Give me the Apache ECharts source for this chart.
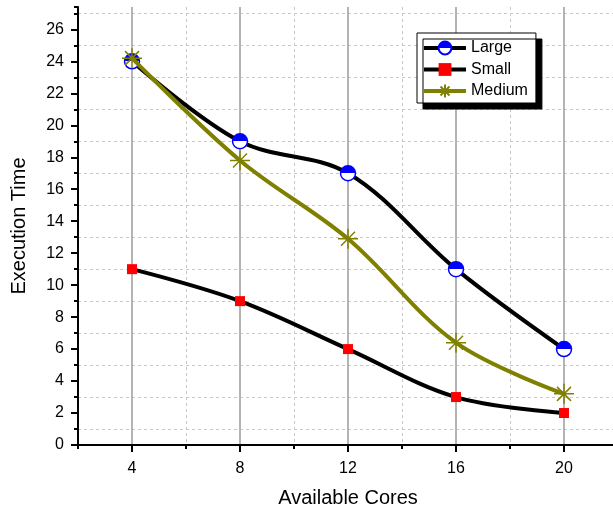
<!DOCTYPE html>
<html>
<head>
<meta charset="utf-8">
<script src="https://cdn.jsdelivr.net/npm/echarts@6.0.0/dist/echarts.min.js"></script>
<style>
  html, body { margin: 0; padding: 0; background: #fff; }
  #chart { width: 613px; height: 513px; }
</style>
</head>
<body>
<div id="chart"></div>
<script>
// values
const cores = [4, 8, 12, 16, 20];
const largeTimes = [24, 19, 17, 11, 6];
const smallTimes = [11, 9, 6, 3, 2];
const mediumTimes = [24.2, 17.8, 12.9, 6.4, 3.2];
const xTickLabels = [4, 8, 12, 16, 20];
const yTickLabels = [0, 2, 4, 6, 8, 10, 12, 14, 16, 18, 20, 22, 24, 26];

const FONT = "Liberation Sans, Arial, sans-serif";
const OLIVE = "#808000";

const chart = echarts.init(document.getElementById("chart"), null, { renderer: "canvas" });

const pairs = (vals) => cores.map((c, i) => [c, vals[i]]);

// half filled circle: blue on top, white below
const halfBlue = new echarts.graphic.LinearGradient(0, 0, 0, 1, [
  { offset: 0, color: "#0000ff" },
  { offset: 0.5, color: "#0000ff" },
  { offset: 0.5, color: "#ffffff" },
  { offset: 1, color: "#ffffff" },
]);

const asterisk = "path://M0 -10 L0 10 M-10 0 L10 0 M-7 -7 L7 7 M-7 7 L7 -7";

// shared scale, each axis only draws one piece
const xBase = { type: "value", min: 2, max: 22, interval: 2, position: "bottom" };
const yBase = { type: "value", min: 0, max: 27.4, interval: 1, position: "left" };
const off = { show: false };

chart.setOption({
  animation: false,
  backgroundColor: "#fff",
  textStyle: { fontFamily: FONT },
  // plot runs past the right edge of the picture
  grid: { left: 78, width: 540, top: 7, bottom: 68, outerBoundsMode: "none" },
  legend: {
    orient: "vertical",
    left: 417,
    top: 33,
    padding: [7, 8, 4, 5],
    itemWidth: 42,
    itemHeight: 16,
    itemGap: 5.5,
    backgroundColor: "#fff",
    borderColor: "#000",
    borderWidth: 1,
    shadowColor: "#000",
    shadowBlur: 0,
    shadowOffsetX: 6,
    shadowOffsetY: 6,
    lineStyle: { width: 4 },
    textStyle: { fontSize: 16, color: "#000", fontFamily: FONT },
    data: ["Large", "Small", "Medium"],
  },
  xAxis: [
    {
      ...xBase,
      name: "Available Cores",
      nameLocation: "middle",
      nameGap: 43,
      nameTextStyle: { fontSize: 20, color: "#000", fontFamily: FONT },
      axisLine: { show: true, onZero: false, lineStyle: { color: "#000", width: 2 } },
      axisTick: { show: true, length: 4, lineStyle: { color: "#000", width: 2 } },
      axisLabel: off,
      splitLine: { show: true, lineStyle: { color: ["#c8c8c8", "transparent"], type: [3, 3], width: 1 } },
    },
    {
      ...xBase,
      axisLine: off,
      axisTick: off,
      axisLabel: off,
      splitLine: { show: true, lineStyle: { color: ["transparent", "#b4b4b4"], width: 2 } },
    },
    {
      ...xBase,
      axisLine: off,
      axisTick: { show: true, length: 7, customValues: xTickLabels, lineStyle: { color: "#000", width: 2 } },
      axisLabel: { show: true, customValues: xTickLabels, fontSize: 16, color: "#000", margin: 16, fontFamily: FONT },
      splitLine: off,
    },
  ],
  yAxis: [
    {
      ...yBase,
      name: "Execution Time",
      nameLocation: "middle",
      nameGap: 49,
      nameTextStyle: { fontSize: 20, color: "#000", fontFamily: FONT },
      axisLine: { show: true, onZero: false, lineStyle: { color: "#000", width: 2 } },
      axisTick: { show: true, length: 4, lineStyle: { color: "#000", width: 2 } },
      axisLabel: off,
      splitLine: { show: true, lineStyle: { color: ["transparent", "#c8c8c8"], type: [3, 3], width: 1 } },
    },
    {
      ...yBase,
      axisLine: off,
      axisTick: { show: true, length: 7, customValues: yTickLabels, lineStyle: { color: "#000", width: 2 } },
      axisLabel: { show: true, customValues: yTickLabels, fontSize: 16, color: "#000", margin: 14, fontFamily: FONT },
      splitLine: off,
    },
  ],
  series: [
    {
      name: "Large",
      type: "line",
      smooth: 0.35,
      data: pairs(largeTimes),
      symbol: "circle",
      symbolSize: 15,
      itemStyle: { color: halfBlue, borderColor: "#0000ff", borderWidth: 1.5 },
      lineStyle: { color: "#000", width: 4 },
      z: 3,
    },
    {
      name: "Small",
      type: "line",
      smooth: 0.35,
      data: pairs(smallTimes),
      symbol: "rect",
      symbolSize: 10,
      itemStyle: { color: "#ff0000" },
      lineStyle: { color: "#000", width: 4 },
      z: 4,
    },
    {
      name: "Medium",
      type: "line",
      smooth: 0.35,
      data: pairs(mediumTimes),
      symbol: asterisk,
      symbolSize: 20,
      itemStyle: { color: OLIVE, borderColor: OLIVE, borderWidth: 1.5 },
      lineStyle: { color: OLIVE, width: 4 },
      z: 5,
    },
  ],
});
</script>
</body>
</html>
